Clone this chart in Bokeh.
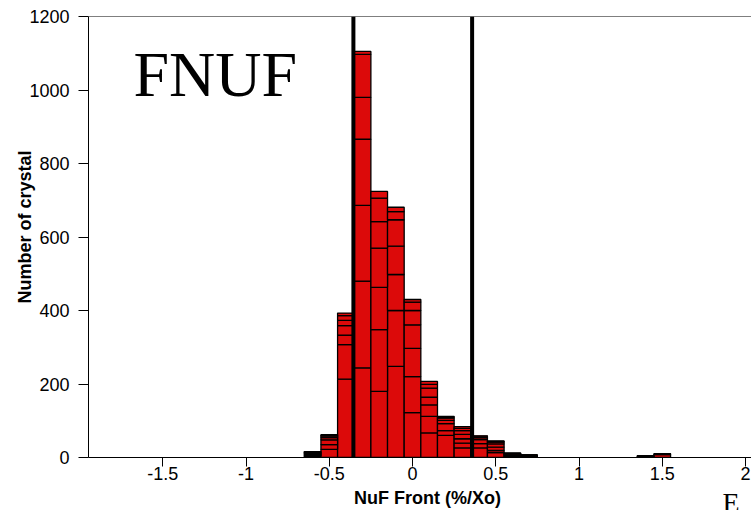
from bokeh.plotting import figure
from bokeh.models import ColumnDataSource, Range1d, FixedTicker, Span, Label, Title
from bokeh.embed import file_html
from bokeh.resources import INLINE

# ---- data ----
bin_centers = [-0.6, -0.5, -0.4, -0.3, -0.2, -0.1, 0.0, 0.1, 0.2, 0.3, 0.4, 0.5, 0.6, 0.7, 1.4, 1.5]
s1 = [4, 22, 213, 244, 180, 248, 122, 67, 60, 26, 26, 13, 4, 2, 2, 8]
s2 = [3, 13, 94, 236, 168, 152, 98, 45, 13, 13, 12, 6, 3, 2, 1, 2]
s3 = [3, 13, 26, 206, 115, 98, 77, 31, 19, 12, 11, 9, 2, 1, 1, 0]
s4 = [2, 6, 26, 180, 107, 77, 64, 21, 9, 12, 5, 9, 1, 1, 1, 0]
s5 = [2, 4, 14, 114, 72, 72, 39, 25, 6, 10, 3, 5, 1, 1, 0, 0]
s6 = [1, 2, 13, 117, 64, 22, 23, 10, 3, 6, 1, 2, 1, 0, 0, 0]
s7 = [1, 2, 7, 8, 18, 12, 7, 8, 2, 5, 1, 1, 0, 0, 0, 0]
cut_lines = [-0.355, 0.358]
x_ticks = [-1.5, -1.0, -0.5, 0.0, 0.5, 1.0, 1.5, 2.0]
x_tick_labels = ["-1.5", "-1", "-0.5", "0", "0.5", "1", "1.5", "2"]
y_ticks = [0, 200, 400, 600, 800, 1000, 1200]

src = ColumnDataSource(dict(x=bin_centers, s1=s1, s2=s2, s3=s3, s4=s4, s5=s5, s6=s6, s7=s7))
stackers = ["s1", "s2", "s3", "s4", "s5", "s6", "s7"]

p = figure(width=751, height=510, output_backend="svg", toolbar_location=None,
           x_range=Range1d(-1.946, 2.036), y_range=Range1d(0, 1200),
           min_border_left=88, min_border_right=0, min_border_top=16, min_border_bottom=53)
p.background_fill_color = "white"
p.border_fill_color = "white"
p.outline_line_color = None
p.grid.visible = False

red = "#DC0A0A"
p.vbar_stack(stackers, x="x", width=0.1, source=src, fill_color=[red] * 7,
             line_color="black", line_width=1.3)

for c in cut_lines:
    p.add_layout(Span(location=c, dimension="height", line_color="black", line_width=4))
p.add_layout(Span(location=1200, dimension="width", line_color="black", line_width=1))

# axes
for ax in (p.xaxis[0], p.yaxis[0]):
    ax.axis_line_color = "black"
    ax.axis_line_width = 1
    ax.major_tick_line_color = "black"
    ax.major_tick_in = 0
    ax.minor_tick_line_color = None
    ax.major_label_text_font = "Liberation Sans"
    ax.major_label_text_font_size = "18px"
    ax.major_label_text_color = "black"
    ax.axis_label_text_font = "Liberation Sans"
    ax.axis_label_text_font_style = "bold"
    ax.axis_label_text_font_size = "18px"
    ax.axis_label_text_color = "black"

p.xaxis.ticker = FixedTicker(ticks=x_ticks)
p.xaxis.major_label_overrides = dict(zip(x_ticks, x_tick_labels))
p.xaxis.major_tick_out = 9
p.xaxis.major_label_standoff = 0
p.xaxis.axis_label = "\u00a0\u00a0\u00a0NuF Front (%/Xo)"
p.xaxis.axis_label_standoff = 5

p.yaxis.ticker = FixedTicker(ticks=y_ticks)
p.yaxis.major_tick_out = 10
p.yaxis.major_label_standoff = 9
p.yaxis.axis_label = "\u00a0\u00a0\u00a0\u00a0Number of crystal"
p.yaxis.axis_label_standoff = -9

p.add_layout(Label(x=45, y=383, x_units="screen", y_units="screen", text="FNUF",
                   text_align="left", text_baseline="alphabetic",
                   text_font="Liberation Serif", text_font_size="64px", text_color="black"))

e_title = Title(text="E", align="left", offset=634, vertical_align="top", standoff=-47,
                text_font="Liberation Serif", text_font_size="28px", text_font_style="normal",
                text_color="black")
p.add_layout(e_title, "below")

open("out.html", "w").write(file_html(p, INLINE))
